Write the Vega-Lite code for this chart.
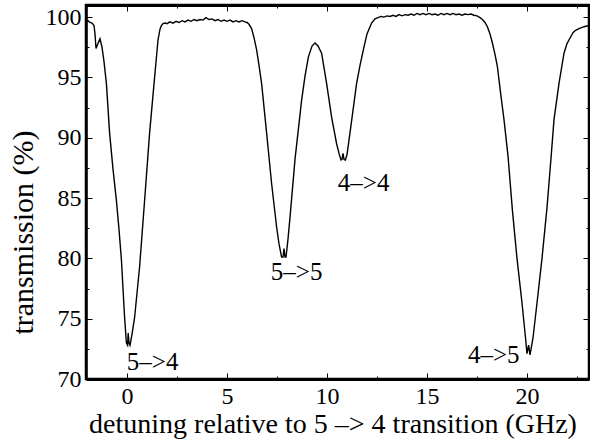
{
  "$schema": "https://vega.github.io/schema/vega-lite/v6.json",
  "width": 503,
  "height": 374,
  "autosize": "none",
  "padding": {"left": 86, "top": 5, "right": 1, "bottom": 62},
  "config": {
    "view": {"stroke": "black", "strokeWidth": 2.5},
    "font": "Liberation Serif",
    "axis": {
      "grid": false,
      "domainColor": "black",
      "tickColor": "black",
      "labelFont": "Liberation Serif",
      "labelFontSize": 24,
      "labelColor": "black",
      "titleFont": "Liberation Serif",
      "titleFontWeight": "normal",
      "titleColor": "black"
    }
  },
  "datasets": {
    "labels": [
      {"detuning": 1.28, "transmission": 70.75, "label": "5–>4"},
      {"detuning": 8.48, "transmission": 78.2, "label": "5–>5"},
      {"detuning": 11.83, "transmission": 85.6, "label": "4–>4"},
      {"detuning": 18.34, "transmission": 71.33, "label": "4–>5"}
    ]
  },
  "resolve": {"axis": {"x": "independent", "y": "independent"}},
  "layer": [
    {
      "data": {"values": [
        {"detuning": -2.05, "transmission": 99.6}, {"detuning": -1.95, "transmission": 99.7},
        {"detuning": -1.85, "transmission": 99.55}, {"detuning": -1.75, "transmission": 99.5},
        {"detuning": -1.65, "transmission": 99.3}, {"detuning": -1.6, "transmission": 98.6},
        {"detuning": -1.55, "transmission": 97.4}, {"detuning": -1.45, "transmission": 97.8},
        {"detuning": -1.35, "transmission": 98.2}, {"detuning": -1.25, "transmission": 97.5},
        {"detuning": -1.15, "transmission": 96.3}, {"detuning": -1.03, "transmission": 94.5},
        {"detuning": -0.87, "transmission": 90.4}, {"detuning": -0.7, "transmission": 87.4},
        {"detuning": -0.53, "transmission": 84.8}, {"detuning": -0.4, "transmission": 82.4},
        {"detuning": -0.28, "transmission": 79.9}, {"detuning": -0.12, "transmission": 75.1},
        {"detuning": -0.03, "transmission": 73.0}, {"detuning": 0.03, "transmission": 72.8},
        {"detuning": 0.06, "transmission": 73.8}, {"detuning": 0.1, "transmission": 73.0},
        {"detuning": 0.15, "transmission": 72.8}, {"detuning": 0.25, "transmission": 73.7},
        {"detuning": 0.38, "transmission": 75.1}, {"detuning": 0.63, "transmission": 79.3},
        {"detuning": 0.88, "transmission": 84.8}, {"detuning": 1.13, "transmission": 90.4},
        {"detuning": 1.38, "transmission": 95.0}, {"detuning": 1.55, "transmission": 98.1},
        {"detuning": 1.65, "transmission": 99.0}, {"detuning": 1.72, "transmission": 99.3},
        {"detuning": 1.8, "transmission": 99.45}, {"detuning": 1.9, "transmission": 99.5},
        {"detuning": 2.0, "transmission": 99.45}, {"detuning": 2.15, "transmission": 99.6},
        {"detuning": 2.3, "transmission": 99.5}, {"detuning": 2.45, "transmission": 99.65},
        {"detuning": 2.6, "transmission": 99.55}, {"detuning": 2.75, "transmission": 99.7},
        {"detuning": 2.9, "transmission": 99.6}, {"detuning": 3.05, "transmission": 99.75},
        {"detuning": 3.2, "transmission": 99.65}, {"detuning": 3.35, "transmission": 99.8},
        {"detuning": 3.5, "transmission": 99.7}, {"detuning": 3.65, "transmission": 99.8},
        {"detuning": 3.8, "transmission": 99.75}, {"detuning": 3.95, "transmission": 99.95},
        {"detuning": 4.1, "transmission": 99.8}, {"detuning": 4.25, "transmission": 99.85},
        {"detuning": 4.4, "transmission": 99.7}, {"detuning": 4.55, "transmission": 99.8},
        {"detuning": 4.7, "transmission": 99.65}, {"detuning": 4.85, "transmission": 99.75},
        {"detuning": 5.0, "transmission": 99.65}, {"detuning": 5.15, "transmission": 99.75},
        {"detuning": 5.3, "transmission": 99.6}, {"detuning": 5.45, "transmission": 99.7},
        {"detuning": 5.6, "transmission": 99.6}, {"detuning": 5.75, "transmission": 99.7},
        {"detuning": 5.9, "transmission": 99.6}, {"detuning": 6.0, "transmission": 99.55},
        {"detuning": 6.1, "transmission": 99.4}, {"detuning": 6.23, "transmission": 99.05},
        {"detuning": 6.35, "transmission": 98.3}, {"detuning": 6.48, "transmission": 97.3},
        {"detuning": 6.6, "transmission": 96.0}, {"detuning": 6.73, "transmission": 94.5},
        {"detuning": 6.98, "transmission": 90.4}, {"detuning": 7.23, "transmission": 86.2},
        {"detuning": 7.48, "transmission": 82.6}, {"detuning": 7.6, "transmission": 81.2},
        {"detuning": 7.73, "transmission": 80.1}, {"detuning": 7.8, "transmission": 80.1},
        {"detuning": 7.85, "transmission": 80.8}, {"detuning": 7.9, "transmission": 80.1},
        {"detuning": 7.95, "transmission": 80.1}, {"detuning": 8.05, "transmission": 81.6},
        {"detuning": 8.15, "transmission": 83.4}, {"detuning": 8.4, "transmission": 88.2},
        {"detuning": 8.73, "transmission": 93.1}, {"detuning": 8.9, "transmission": 95.1},
        {"detuning": 9.07, "transmission": 96.7}, {"detuning": 9.25, "transmission": 97.6},
        {"detuning": 9.4, "transmission": 97.85}, {"detuning": 9.55, "transmission": 97.6},
        {"detuning": 9.73, "transmission": 97.0}, {"detuning": 9.98, "transmission": 94.5},
        {"detuning": 10.23, "transmission": 91.7}, {"detuning": 10.48, "transmission": 89.5},
        {"detuning": 10.6, "transmission": 88.7}, {"detuning": 10.7, "transmission": 88.15},
        {"detuning": 10.75, "transmission": 88.2}, {"detuning": 10.8, "transmission": 88.7},
        {"detuning": 10.85, "transmission": 88.2}, {"detuning": 10.92, "transmission": 88.15},
        {"detuning": 11.0, "transmission": 88.6}, {"detuning": 11.15, "transmission": 90.4},
        {"detuning": 11.48, "transmission": 94.5}, {"detuning": 11.65, "transmission": 96.0},
        {"detuning": 11.82, "transmission": 97.3}, {"detuning": 12.0, "transmission": 98.6},
        {"detuning": 12.23, "transmission": 99.5}, {"detuning": 12.4, "transmission": 99.85},
        {"detuning": 12.55, "transmission": 99.95}, {"detuning": 12.7, "transmission": 100.05},
        {"detuning": 12.85, "transmission": 100.0}, {"detuning": 13.0, "transmission": 100.1},
        {"detuning": 13.15, "transmission": 100.05}, {"detuning": 13.3, "transmission": 100.15},
        {"detuning": 13.45, "transmission": 100.05}, {"detuning": 13.6, "transmission": 100.2},
        {"detuning": 13.75, "transmission": 100.1}, {"detuning": 13.9, "transmission": 100.2},
        {"detuning": 14.05, "transmission": 100.15}, {"detuning": 14.2, "transmission": 100.25},
        {"detuning": 14.35, "transmission": 100.15}, {"detuning": 14.5, "transmission": 100.3},
        {"detuning": 14.65, "transmission": 100.2}, {"detuning": 14.8, "transmission": 100.3},
        {"detuning": 14.95, "transmission": 100.2}, {"detuning": 15.1, "transmission": 100.3},
        {"detuning": 15.25, "transmission": 100.2}, {"detuning": 15.4, "transmission": 100.25},
        {"detuning": 15.55, "transmission": 100.15}, {"detuning": 15.7, "transmission": 100.3},
        {"detuning": 15.85, "transmission": 100.2}, {"detuning": 16.0, "transmission": 100.3},
        {"detuning": 16.15, "transmission": 100.2}, {"detuning": 16.3, "transmission": 100.3},
        {"detuning": 16.45, "transmission": 100.2}, {"detuning": 16.6, "transmission": 100.25},
        {"detuning": 16.75, "transmission": 100.15}, {"detuning": 16.9, "transmission": 100.25},
        {"detuning": 17.05, "transmission": 100.2}, {"detuning": 17.2, "transmission": 100.25},
        {"detuning": 17.35, "transmission": 100.15}, {"detuning": 17.5, "transmission": 100.1},
        {"detuning": 17.65, "transmission": 99.95}, {"detuning": 17.77, "transmission": 99.8},
        {"detuning": 17.9, "transmission": 99.55}, {"detuning": 18.02, "transmission": 99.2},
        {"detuning": 18.15, "transmission": 98.6}, {"detuning": 18.27, "transmission": 97.85},
        {"detuning": 18.4, "transmission": 96.9}, {"detuning": 18.52, "transmission": 95.9},
        {"detuning": 18.68, "transmission": 93.7}, {"detuning": 18.85, "transmission": 91.5},
        {"detuning": 19.05, "transmission": 88.5}, {"detuning": 19.27, "transmission": 84.0},
        {"detuning": 19.5, "transmission": 80.0}, {"detuning": 19.75, "transmission": 76.3},
        {"detuning": 19.92, "transmission": 73.5}, {"detuning": 20.0, "transmission": 72.1},
        {"detuning": 20.08, "transmission": 72.8}, {"detuning": 20.15, "transmission": 72.0},
        {"detuning": 20.3, "transmission": 73.4}, {"detuning": 20.5, "transmission": 76.3},
        {"detuning": 20.75, "transmission": 80.0}, {"detuning": 21.0, "transmission": 84.2},
        {"detuning": 21.2, "transmission": 88.3}, {"detuning": 21.35, "transmission": 91.5},
        {"detuning": 21.6, "transmission": 94.5}, {"detuning": 21.85, "transmission": 97.0},
        {"detuning": 22.0, "transmission": 97.8}, {"detuning": 22.18, "transmission": 98.35},
        {"detuning": 22.3, "transmission": 98.7}, {"detuning": 22.43, "transmission": 98.9},
        {"detuning": 22.6, "transmission": 99.05}, {"detuning": 22.85, "transmission": 99.2},
        {"detuning": 23.1, "transmission": 99.3}
      ]},
      "mark": {"type": "line", "color": "black", "strokeWidth": 1.4, "clip": true},
      "encoding": {
        "x": {
          "field": "detuning", "type": "quantitative",
          "scale": {"domain": [-2.05, 23.1], "nice": false, "zero": false},
          "axis": {
            "orient": "bottom",
            "title": "detuning relative to 5 –> 4 transition (GHz)",
            "titleFontSize": 28,
            "values": [0, 5, 10, 15, 20],
            "tickSize": -6,
            "labelPadding": 11,
            "domainWidth": 3,
            "titleX": 246.5,
            "titleY": 53,
            "titleBaseline": "alphabetic"
          }
        },
        "y": {
          "field": "transmission", "type": "quantitative",
          "scale": {"domain": [70, 101], "nice": false, "zero": false},
          "axis": {
            "orient": "left",
            "title": "transmission (%)",
            "titleFontSize": 30,
            "values": [70, 75, 80, 85, 90, 95, 100],
            "tickSize": -6,
            "labelPadding": 11,
            "domainWidth": 2.5,
            "titleX": -48,
            "titleY": 227,
            "titleBaseline": "bottom"
          }
        }
      }
    },
    {
      "data": {"name": "labels"},
      "mark": {"type": "text", "font": "Liberation Serif", "fontSize": 25, "color": "black", "align": "center", "baseline": "alphabetic"},
      "encoding": {
        "text": {"field": "label"},
        "x": {
          "field": "detuning", "type": "quantitative",
          "axis": {"orient": "top", "title": null, "labels": false, "values": [0, 5, 10, 15, 20], "tickSize": -6, "domainWidth": 3}
        },
        "y": {
          "field": "transmission", "type": "quantitative",
          "axis": {"orient": "right", "title": null, "labels": false, "values": [70, 75, 80, 85, 90, 95, 100], "tickSize": -6, "domainWidth": 2.5}
        }
      }
    },
    {
      "data": {"name": "labels"},
      "mark": {"type": "point", "opacity": 0},
      "encoding": {
        "x": {
          "field": "detuning", "type": "quantitative",
          "axis": {"orient": "bottom", "title": null, "labels": false, "domain": false, "values": [2.5, 7.5, 12.5, 17.5, 22.5], "tickSize": -3}
        },
        "y": {
          "field": "transmission", "type": "quantitative",
          "axis": {"orient": "left", "title": null, "labels": false, "domain": false, "values": [72.5, 77.5, 82.5, 87.5, 92.5, 97.5], "tickSize": -3}
        }
      }
    },
    {
      "data": {"name": "labels"},
      "mark": {"type": "point", "opacity": 0},
      "encoding": {
        "x": {
          "field": "detuning", "type": "quantitative",
          "axis": {"orient": "top", "title": null, "labels": false, "domain": false, "values": [2.5, 7.5, 12.5, 17.5, 22.5], "tickSize": -3}
        },
        "y": {
          "field": "transmission", "type": "quantitative",
          "axis": {"orient": "right", "title": null, "labels": false, "domain": false, "values": [72.5, 77.5, 82.5, 87.5, 92.5, 97.5], "tickSize": -3}
        }
      }
    }
  ]
}
